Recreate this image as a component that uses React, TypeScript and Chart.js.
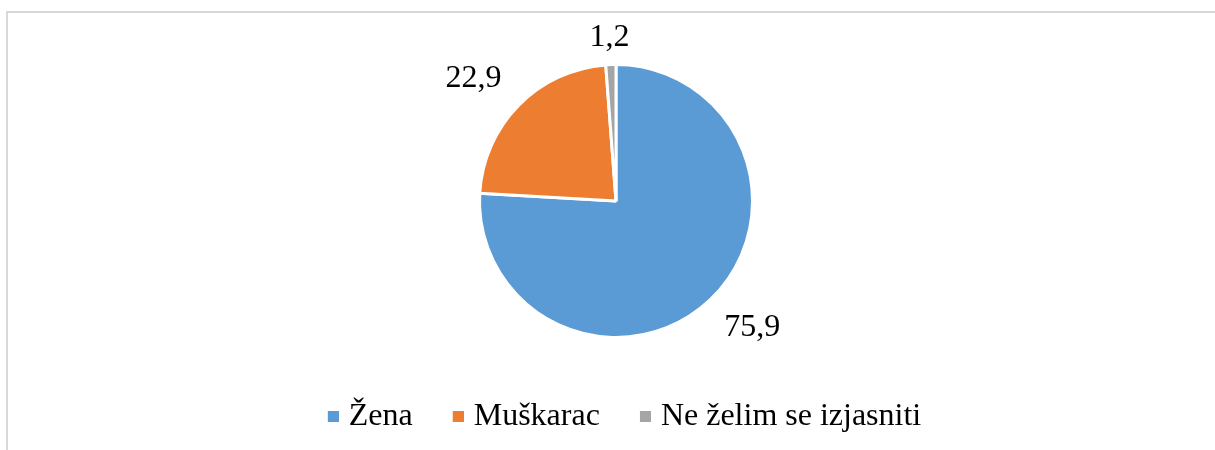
import React, { useEffect, useRef } from 'react';
import { Chart, registerables } from 'chart.js';

Chart.register(...registerables);

const categories = ['Žena', 'Muškarac', 'Ne želim se izjasniti'];
const values = [75.9, 22.9, 1.2];
const colors = ['#5B9BD5', '#ED7D31', '#A5A5A5'];

const FONT = "'Liberation Serif', 'Times New Roman', serif";
const FONT_SIZE = 32;

function makeSwatch(color: string): HTMLCanvasElement {
  const c = document.createElement('canvas');
  c.width = 34;
  c.height = 11;
  const g = c.getContext('2d');
  if (g) {
    g.fillStyle = color;
    g.fillRect(23, 0, 11, 11);
  }
  return c;
}

const outsideLabels = {
  id: 'outsideLabels',
  afterDatasetsDraw(chart: any) {
    const ctx = chart.ctx;
    const meta = chart.getDatasetMeta(0);
    const data = chart.data.datasets[0].data as number[];
    ctx.save();
    ctx.font = `${FONT_SIZE}px ${FONT}`;
    ctx.fillStyle = '#000000';
    ctx.textAlign = 'center';
    ctx.textBaseline = 'middle';
    meta.data.forEach((arc: any, i: number) => {
      const { x, y, startAngle, endAngle, outerRadius } = arc.getProps(
        ['x', 'y', 'startAngle', 'endAngle', 'outerRadius'],
        true
      );
      const mid = (startAngle + endAngle) / 2;
      const ux = Math.cos(mid);
      const uy = Math.sin(mid);
      const m = Math.max(Math.abs(ux), Math.abs(uy));
      const text = String(data[i]).replace('.', ',');
      const w = ctx.measureText(text).width;
      const ax = x + ux * outerRadius;
      const ay = y + uy * outerRadius;
      const cx = ax + (ux / m) * (17 + w / 2);
      const cy = ay + (uy / m) * (17 + 10.5);
      ctx.fillText(text, cx, cy);
    });
    ctx.restore();
  },
};

export default function App() {
  const canvasRef = useRef<HTMLCanvasElement | null>(null);

  useEffect(() => {
    if (!canvasRef.current) return;
    const swatches = colors.map(makeSwatch);
    const chart = new Chart(canvasRef.current, {
      type: 'pie',
      data: {
        labels: categories,
        datasets: [
          {
            data: values,
            backgroundColor: colors,
            borderColor: '#ffffff',
            borderWidth: 3,
            radius: 136.5,
          } as any,
        ],
      },
      options: {
        responsive: false,
        animation: false,
        layout: { padding: { left: 17, right: 0, top: 24.5, bottom: 7.5 } },
        plugins: {
          legend: {
            position: 'bottom',
            align: 'center',
            labels: {
              usePointStyle: true,
              boxWidth: 22,
              boxHeight: 11,
              padding: 23,
              color: '#000000',
              font: { family: FONT, size: FONT_SIZE },
              generateLabels: (ch: any) =>
                (ch.data.labels as string[]).map((t, i) => ({
                  text: t,
                  fillStyle: colors[i],
                  strokeStyle: colors[i],
                  lineWidth: 0,
                  pointStyle: swatches[i],
                  hidden: false,
                  index: i,
                  datasetIndex: 0,
                  fontColor: '#000000',
                })),
            },
          },
          tooltip: { enabled: false },
        },
      } as any,
      plugins: [outsideLabels],
    });
    return () => chart.destroy();
  }, []);

  return (
    <div style={{ position: 'fixed', left: 0, top: 0, width: 1215, height: 450, background: '#ffffff', overflow: 'hidden' }}>
      <div
        style={{
          position: 'absolute',
          left: 6,
          top: 11,
          width: 1300,
          height: 500,
          borderLeft: '2px solid #d9d9d9',
          borderTop: '2px solid #d9d9d9',
        }}
      />
      <canvas
        ref={canvasRef}
        width={1215}
        height={450}
        style={{ position: 'absolute', left: 0, top: 0, width: 1215, height: 450 }}
      />
    </div>
  );
}
